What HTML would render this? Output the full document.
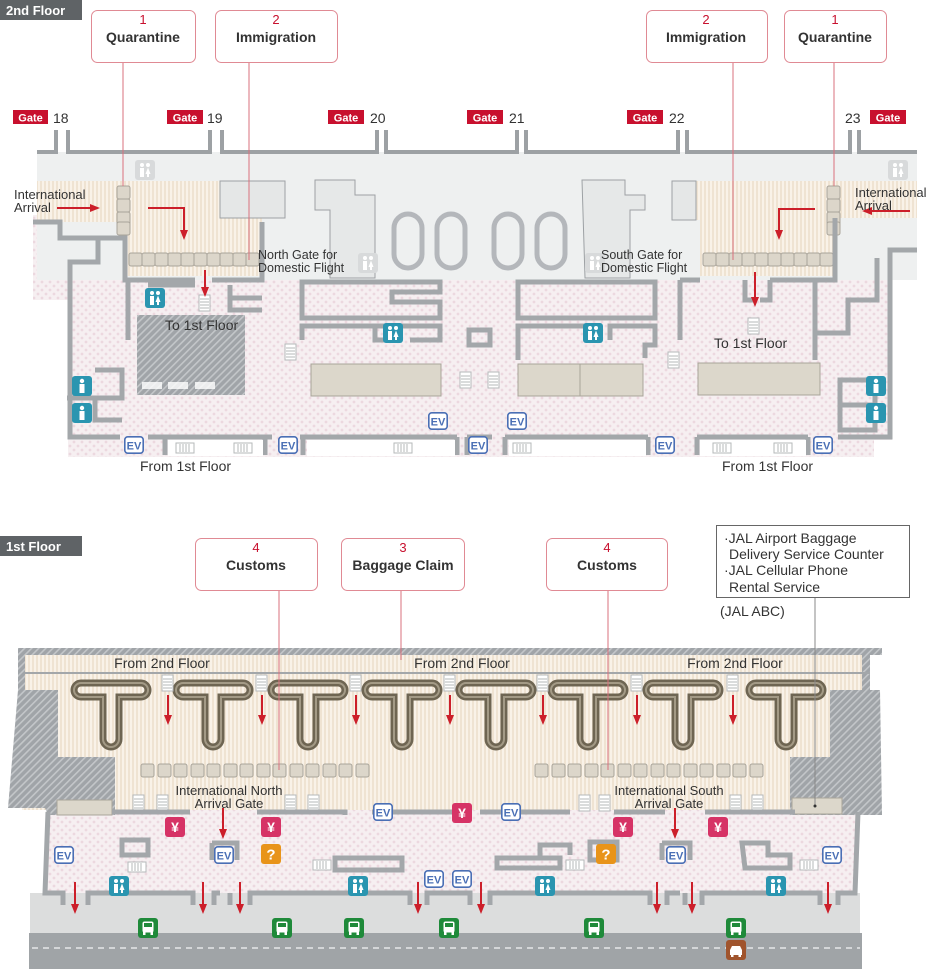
<!DOCTYPE html>
<html><head><meta charset="utf-8"><style>
html,body{margin:0;padding:0;background:#fff;}
svg{display:block;font-family:"Liberation Sans",sans-serif;}
</style></head><body>
<svg width="950" height="969" viewBox="0 0 950 969" xmlns="http://www.w3.org/2000/svg">
<defs>
<pattern id="dots" width="8" height="8" patternUnits="userSpaceOnUse"><rect width="8" height="8" fill="#f6eff1"/><circle cx="2" cy="2" r="1.4" fill="#ecd8df"/><circle cx="6" cy="6" r="1.4" fill="#ecd8df"/></pattern>
<pattern id="stripe" width="4" height="4" patternUnits="userSpaceOnUse"><rect width="4" height="4" fill="#f9f2e8"/><rect width="2" height="4" fill="#efe3d2"/></pattern>
<pattern id="hatch" width="5" height="5" patternUnits="userSpaceOnUse" patternTransform="rotate(45)"><rect width="5" height="5" fill="#a0a4a8"/><rect width="1.6" height="5" fill="#c3c6c9"/></pattern>
<g id="rr"><rect width="20" height="20" rx="3" fill="#2a95b0"/><circle cx="7" cy="5" r="2" fill="#fff"/><circle cx="13" cy="5" r="2" fill="#fff"/><rect x="5" y="8" width="4" height="9" fill="#fff"/><path d="M10.5 14 L13 7.5 L15.5 14Z" fill="#fff"/><rect x="12" y="13" width="2" height="4" fill="#fff"/></g>
<g id="rrg"><rect width="20" height="20" rx="3" fill="#d8dadb"/><circle cx="7" cy="5" r="2" fill="#fff"/><circle cx="13" cy="5" r="2" fill="#fff"/><rect x="5" y="8" width="4" height="9" fill="#fff"/><path d="M10.5 14 L13 7.5 L15.5 14Z" fill="#fff"/><rect x="12" y="13" width="2" height="4" fill="#fff"/></g>
<g id="rr1"><rect width="20" height="20" rx="3" fill="#2a95b0"/><circle cx="10" cy="5" r="2.2" fill="#fff"/><rect x="7.5" y="8" width="5" height="9" fill="#fff"/></g>
<g id="ev"><rect x="0.8" y="0.8" width="18.4" height="16.4" rx="3" fill="#fff" stroke="#4a6fb5" stroke-width="1.6"/><text x="10" y="13.5" text-anchor="middle" font-size="11" font-weight="bold" fill="#4a6fb5">EV</text></g>
<g id="yen"><rect width="20" height="20" rx="3" fill="#d63366"/><text x="10" y="15" text-anchor="middle" font-size="14" font-weight="bold" fill="#fff">¥</text></g>
<g id="q"><rect width="20" height="20" rx="3" fill="#e8941a"/><text x="10" y="15.5" text-anchor="middle" font-size="15" font-weight="bold" fill="#fff">?</text></g>
<g id="bus"><rect width="20" height="20" rx="3" fill="#1f8a3a"/><rect x="4.5" y="3.5" width="11" height="11" rx="2" fill="#fff"/><rect x="6" y="5" width="8" height="4" fill="#1f8a3a"/><rect x="5" y="14" width="2.5" height="3" fill="#fff"/><rect x="12.5" y="14" width="2.5" height="3" fill="#fff"/></g>
<g id="taxi"><rect width="20" height="20" rx="3" fill="#a0542d"/><path d="M6 6 H14 L16 10 V15 H4 V10Z" fill="#fff"/><rect x="5" y="15" width="2.5" height="2" fill="#fff"/><rect x="12.5" y="15" width="2.5" height="2" fill="#fff"/></g>
<g id="st"><rect width="11" height="16" fill="#fff" stroke="#b5b8ba"/><path d="M1 4H10M1 7H10M1 10H10M1 13H10" stroke="#b5b8ba"/></g>
<g id="sth"><rect width="18" height="10" fill="#fff" stroke="#b5b8ba"/><path d="M4 1V9M7 1V9M10 1V9M13 1V9" stroke="#b5b8ba"/></g>
<g id="ctr"><rect width="13" height="13" rx="2" fill="#dcd6ca" stroke="#a9a49a"/></g>
<path id="belt" d="M-30 -6 H30 A7 7 0 0 1 30 8 H8 V50 A8 8 0 0 1 -8 50 V8 H-30 A7 7 0 0 1 -30 -6Z" fill="none"/>
</defs>

<!-- ================= 2nd FLOOR ================= -->
<rect x="0" y="0" width="82" height="20" fill="#5f6366"/>
<text x="6" y="15" font-size="13" font-weight="bold" fill="#fff">2nd Floor</text>

<path d="M33 215 H917 V250 H888 L892 440 H874 V457 H68 V300 H33 Z" fill="url(#dots)"/>
<rect x="37" y="152" width="880" height="128" fill="#eef0f0"/>
<g fill="none" stroke="#9da1a4" stroke-width="4">
<path d="M37 152 H56 V130"/><path d="M68 130 V152 H210 V130"/><path d="M222 130 V152 H377 V130"/><path d="M386 130 V152 H517 V130"/><path d="M526 130 V152 H678 V130"/><path d="M687 130 V152 H850 V130"/><path d="M859 130 V152 H917"/>
</g>
<path d="M37 181 H220 V218 H262 V276 H125 V222 H37 Z" fill="url(#stripe)"/>
<rect x="220" y="181" width="65" height="37" fill="#e5e7e7" stroke="#9da1a4"/>
<path d="M695 181 H917 V218 H835 V276 H700 V220 H695 Z" fill="url(#stripe)"/>
<rect x="672" y="181" width="24" height="39" fill="#e5e7e7" stroke="#9da1a4"/>
<path d="M315 180 H355 V195 H375 V278 H330 V210 H315 Z" fill="#e6e8e8" stroke="#9da1a4"/>
<path d="M582 180 H625 V195 H645 V210 H630 V278 H585 Z" fill="#e6e8e8" stroke="#9da1a4"/>
<g fill="none" stroke="#b4b7bb" stroke-width="5">
<rect x="394" y="214" width="28" height="54" rx="14"/><rect x="437" y="214" width="28" height="54" rx="14"/><rect x="494" y="214" width="28" height="54" rx="14"/><rect x="537" y="214" width="28" height="54" rx="14"/>
</g>
<g>
<use href="#ctr" x="117" y="186"/><use href="#ctr" x="117" y="199"/><use href="#ctr" x="117" y="212"/><use href="#ctr" x="117" y="222"/>
<use href="#ctr" x="129" y="253"/><use href="#ctr" x="142" y="253"/><use href="#ctr" x="155" y="253"/><use href="#ctr" x="168" y="253"/><use href="#ctr" x="181" y="253"/><use href="#ctr" x="194" y="253"/><use href="#ctr" x="207" y="253"/><use href="#ctr" x="220" y="253"/><use href="#ctr" x="233" y="253"/><use href="#ctr" x="246" y="253"/>
<use href="#ctr" x="827" y="186"/><use href="#ctr" x="827" y="199"/><use href="#ctr" x="827" y="212"/><use href="#ctr" x="827" y="222"/>
<use href="#ctr" x="703" y="253"/><use href="#ctr" x="716" y="253"/><use href="#ctr" x="729" y="253"/><use href="#ctr" x="742" y="253"/><use href="#ctr" x="755" y="253"/><use href="#ctr" x="768" y="253"/><use href="#ctr" x="781" y="253"/><use href="#ctr" x="794" y="253"/><use href="#ctr" x="807" y="253"/><use href="#ctr" x="820" y="253"/>
</g>
<g fill="none" stroke="#a3a7aa" stroke-width="5">
<path d="M33 222 H60 V238 H98 V262 H70 V437 H120"/>
<path d="M60 238 H125 V280 H195"/>
<path d="M212 280 H262 V222"/>
<path d="M128 280 V340 M148 285 H195 M230 285 V310 H262 M230 298 H262"/>
<path d="M148 437 H272 M300 437 H457 M467 437 H492 M505 437 H648 M697 437 H808 M838 437 H890 V250 H917"/>
<path d="M67 398 H122 V370 H95 M95 398 V420 H122"/>
<path d="M302 282 H440 V292 H392 V302 H440 V318 H302 Z"/>
<path d="M302 340 V326 H375 V340 H392 M410 340 H440 V326 H302"/>
<path d="M469 330 H490 V345 H469 Z"/>
<path d="M518 282 H655 V318 H518 Z"/>
<path d="M518 360 V326 H593 V340 M610 340 V326 H655 V345 H645 V358"/>
<path d="M680 280 V340 M680 280 H700 M745 280 V300 H755 M770 280 V300 H760 M770 280 H835 V218 M815 280 V360 M815 333 H848 V300 H877 V258"/>
<path d="M840 380 H875 V430 H840 Z M840 405 H875"/>
<path d="M165 437 V455 M265 437 V455 M303 437 V455 M457 437 V455 M467 437 V455 M505 437 V455 M648 437 V455 M697 437 V455 M808 437 V455"/>
</g>
<rect x="137" y="315" width="108" height="80" fill="url(#hatch)"/>
<rect x="142" y="382" width="20" height="7" fill="#fff" opacity="0.8"/><rect x="168" y="382" width="20" height="7" fill="#fff" opacity="0.8"/><rect x="195" y="382" width="20" height="7" fill="#fff" opacity="0.8"/>
<rect x="311" y="364" width="130" height="32" fill="#dcd7cb" stroke="#a9a49a"/>
<rect x="518" y="364" width="62" height="32" fill="#dcd7cb" stroke="#a9a49a"/>
<rect x="580" y="364" width="63" height="32" fill="#dcd7cb" stroke="#a9a49a"/>
<rect x="698" y="363" width="122" height="32" fill="#dcd7cb" stroke="#a9a49a"/>
<rect x="168" y="440" width="95" height="16" fill="#fff"/><rect x="307" y="440" width="148" height="16" fill="#fff"/><rect x="509" y="440" width="137" height="16" fill="#fff"/><rect x="700" y="440" width="106" height="16" fill="#fff"/>
<use href="#st" x="199" y="295"/><use href="#st" x="285" y="344"/><use href="#st" x="460" y="372"/><use href="#st" x="488" y="372"/><use href="#st" x="748" y="318"/><use href="#st" x="668" y="352"/>
<use href="#sth" x="176" y="443"/><use href="#sth" x="234" y="443"/><use href="#sth" x="394" y="443"/><use href="#sth" x="513" y="443"/><use href="#sth" x="713" y="443"/><use href="#sth" x="774" y="443"/>
<use href="#rrg" x="135" y="160"/><use href="#rrg" x="888" y="160"/><use href="#rrg" x="358" y="253"/><use href="#rrg" x="585" y="253"/>
<use href="#rr" x="145" y="288"/><use href="#rr" x="383" y="323"/><use href="#rr" x="583" y="323"/>
<use href="#rr1" x="72" y="376"/><use href="#rr1" x="72" y="403"/><use href="#rr1" x="866" y="376"/><use href="#rr1" x="866" y="403"/>
<use href="#ev" x="428" y="412"/><use href="#ev" x="507" y="412"/>
<use href="#ev" x="124" y="436"/><use href="#ev" x="278" y="436"/><use href="#ev" x="468" y="436"/><use href="#ev" x="655" y="436"/><use href="#ev" x="813" y="436"/>
<g stroke="#cc1f2a" stroke-width="2" fill="none">
<path d="M57 208 H92"/><path d="M148 208 H184 V232"/><path d="M205 270 V290"/>
<path d="M910 211 H870"/><path d="M815 209 H779 V232"/><path d="M755 272 V300"/>
</g>
<g fill="#cc1f2a">
<path d="M100 208 L90 204 V212Z"/><path d="M184 240 L180 230 H188Z"/><path d="M205 297 L201 287 H209Z"/>
<path d="M862 211 L872 207 V215Z"/><path d="M779 240 L775 230 H783Z"/><path d="M755 307 L751 297 H759Z"/>
</g>
<g font-size="14" fill="#333">
<rect x="13" y="110" width="35" height="14" fill="#c8102e"/><text x="30.5" y="121.5" text-anchor="middle" font-size="11" font-weight="bold" fill="#fff">Gate</text><text x="53" y="123">18</text>
<rect x="167" y="110" width="36" height="14" fill="#c8102e"/><text x="185" y="121.5" text-anchor="middle" font-size="11" font-weight="bold" fill="#fff">Gate</text><text x="207" y="123">19</text>
<rect x="328" y="110" width="36" height="14" fill="#c8102e"/><text x="346" y="121.5" text-anchor="middle" font-size="11" font-weight="bold" fill="#fff">Gate</text><text x="370" y="123">20</text>
<rect x="467" y="110" width="36" height="14" fill="#c8102e"/><text x="485" y="121.5" text-anchor="middle" font-size="11" font-weight="bold" fill="#fff">Gate</text><text x="509" y="123">21</text>
<rect x="627" y="110" width="36" height="14" fill="#c8102e"/><text x="645" y="121.5" text-anchor="middle" font-size="11" font-weight="bold" fill="#fff">Gate</text><text x="669" y="123">22</text>
<text x="845" y="123">23</text><rect x="870" y="110" width="36" height="14" fill="#c8102e"/><text x="888" y="121.5" text-anchor="middle" font-size="11" font-weight="bold" fill="#fff">Gate</text>
</g>
<g stroke="#d9707c" stroke-width="1">
<path d="M123 62 V186"/><path d="M249 62 V260"/><path d="M733 62 V260"/><path d="M834 62 V186"/>
</g>
<g>
<rect x="91.5" y="10.5" width="104" height="52" rx="6" fill="#fff" stroke="#e08a94"/>
<text x="143" y="24" text-anchor="middle" font-size="13" fill="#c8102e">1</text><text x="143" y="42" text-anchor="middle" font-size="14" font-weight="bold" fill="#333">Quarantine</text>
<rect x="215.5" y="10.5" width="122" height="52" rx="6" fill="#fff" stroke="#e08a94"/>
<text x="276" y="24" text-anchor="middle" font-size="13" fill="#c8102e">2</text><text x="276" y="42" text-anchor="middle" font-size="14" font-weight="bold" fill="#333">Immigration</text>
<rect x="646.5" y="10.5" width="121" height="52" rx="6" fill="#fff" stroke="#e08a94"/>
<text x="706" y="24" text-anchor="middle" font-size="13" fill="#c8102e">2</text><text x="706" y="42" text-anchor="middle" font-size="14" font-weight="bold" fill="#333">Immigration</text>
<rect x="784.5" y="10.5" width="102" height="52" rx="6" fill="#fff" stroke="#e08a94"/>
<text x="835" y="24" text-anchor="middle" font-size="13" fill="#c8102e">1</text><text x="835" y="42" text-anchor="middle" font-size="14" font-weight="bold" fill="#333">Quarantine</text>
</g>
<g font-size="13" fill="#333">
<text x="14" y="199">International</text><text x="14" y="212">Arrival</text>
<text x="855" y="197">International</text><text x="855" y="210">Arrival</text>
<text x="258" y="259" font-size="12.5">North Gate for</text><text x="258" y="272" font-size="12.5">Domestic Flight</text>
<text x="601" y="259" font-size="12.5">South Gate for</text><text x="601" y="272" font-size="12.5">Domestic Flight</text>
<text x="165" y="330" font-size="14">To 1st Floor</text>
<text x="714" y="348" font-size="14">To 1st Floor</text>
<text x="140" y="471" font-size="14">From 1st Floor</text>
<text x="722" y="471" font-size="14">From 1st Floor</text>
</g>

<!-- ================= 1st FLOOR ================= -->
<rect x="0" y="536" width="82" height="20" fill="#5f6366"/>
<text x="6" y="551" font-size="13" font-weight="bold" fill="#fff">1st Floor</text>

<rect x="30" y="893" width="830" height="42" fill="#dcdddd"/>
<rect x="29" y="933" width="833" height="36" fill="#a0a4a7"/>
<path d="M32 948 H860" stroke="#e6e7e8" stroke-width="1.5" stroke-dasharray="6 5"/>
<path d="M48 810 H860 L857 893 H44 Z" fill="url(#dots)"/>
<rect x="22" y="652" width="848" height="158" fill="url(#stripe)"/>
<path d="M18 648 H882 V655 H870 V690 H862 V655 H25 V690 L18 690 Z" fill="url(#hatch)"/>
<path d="M25 690 H58 V757 H115 V815 H48 L45 808 H8 L18 690 Z" fill="url(#hatch)"/>
<path d="M830 690 H880 L882 815 H790 V757 H830 Z" fill="url(#hatch)"/>
<path d="M25 673 H870" stroke="#a3a7aa" stroke-width="2"/>
<rect x="57" y="800" width="55" height="15" fill="#dcd7cb" stroke="#a9a49a"/>
<rect x="792" y="798" width="50" height="16" fill="#dcd7cb" stroke="#a9a49a"/>
<g>
<use href="#belt" x="111" y="689" stroke="#6e6552" stroke-width="7"/><use href="#belt" x="111" y="689" stroke="#a39a86" stroke-width="2"/>
<use href="#belt" x="213" y="689" stroke="#6e6552" stroke-width="7"/><use href="#belt" x="213" y="689" stroke="#a39a86" stroke-width="2"/>
<use href="#belt" x="308" y="689" stroke="#6e6552" stroke-width="7"/><use href="#belt" x="308" y="689" stroke="#a39a86" stroke-width="2"/>
<use href="#belt" x="402" y="689" stroke="#6e6552" stroke-width="7"/><use href="#belt" x="402" y="689" stroke="#a39a86" stroke-width="2"/>
<use href="#belt" x="496" y="689" stroke="#6e6552" stroke-width="7"/><use href="#belt" x="496" y="689" stroke="#a39a86" stroke-width="2"/>
<use href="#belt" x="588" y="689" stroke="#6e6552" stroke-width="7"/><use href="#belt" x="588" y="689" stroke="#a39a86" stroke-width="2"/>
<use href="#belt" x="683" y="689" stroke="#6e6552" stroke-width="7"/><use href="#belt" x="683" y="689" stroke="#a39a86" stroke-width="2"/>
<use href="#belt" x="786" y="689" stroke="#6e6552" stroke-width="7"/><use href="#belt" x="786" y="689" stroke="#a39a86" stroke-width="2"/>
</g>
<use href="#st" x="162" y="675"/><use href="#st" x="256" y="675"/><use href="#st" x="350" y="675"/><use href="#st" x="444" y="675"/><use href="#st" x="537" y="675"/><use href="#st" x="631" y="675"/><use href="#st" x="727" y="675"/>
<use href="#st" x="133" y="795"/><use href="#st" x="157" y="795"/><use href="#st" x="285" y="795"/><use href="#st" x="308" y="795"/><use href="#st" x="579" y="795"/><use href="#st" x="599" y="795"/><use href="#st" x="730" y="795"/><use href="#st" x="752" y="795"/>
<g>
<use href="#ctr" x="141" y="764"/><use href="#ctr" x="158" y="764"/><use href="#ctr" x="174" y="764"/><use href="#ctr" x="191" y="764"/><use href="#ctr" x="207" y="764"/><use href="#ctr" x="224" y="764"/><use href="#ctr" x="240" y="764"/><use href="#ctr" x="257" y="764"/><use href="#ctr" x="273" y="764"/><use href="#ctr" x="290" y="764"/><use href="#ctr" x="306" y="764"/><use href="#ctr" x="323" y="764"/><use href="#ctr" x="339" y="764"/><use href="#ctr" x="356" y="764"/>
<use href="#ctr" x="535" y="764"/><use href="#ctr" x="552" y="764"/><use href="#ctr" x="568" y="764"/><use href="#ctr" x="585" y="764"/><use href="#ctr" x="601" y="764"/><use href="#ctr" x="618" y="764"/><use href="#ctr" x="634" y="764"/><use href="#ctr" x="651" y="764"/><use href="#ctr" x="667" y="764"/><use href="#ctr" x="684" y="764"/><use href="#ctr" x="700" y="764"/><use href="#ctr" x="717" y="764"/><use href="#ctr" x="733" y="764"/><use href="#ctr" x="750" y="764"/>
</g>
<g fill="none" stroke="#a3a7aa" stroke-width="5">
<path d="M112 812 H190 M257 812 H345 V815 M372 812 H455 M480 812 H570 M614 812 H665 M705 812 H795"/>
<path d="M48 812 L45 893 H63 V905 M88 905 V893 H193 V905 M214 905 V893 H220 M230 893 V905 M250 905 V893 H410 V905 M427 905 V893 H470 V905 M490 905 V893 H650 V905 M667 905 V893 H680 M685 893 V905 M702 905 V893 H820 V905 M838 905 V893 H855 L858 812"/>
<path d="M122 840 H148 V855 H122 Z"/>
<path d="M212 843 H237 V860 M212 843 V860"/>
<path d="M335 858 H402 V870 H335 Z"/>
<path d="M497 858 H560 V868 H497 Z M540 858 V845 H570 V855"/>
<path d="M662 843 H690 V860 M662 843 V860"/>
<path d="M742 843 H768 V855 H790 V868 H745 Z"/>
<path d="M590 842 H617 V860 H590 Z"/>
</g>
<use href="#sth" x="128" y="862"/><use href="#sth" x="313" y="860"/><use href="#sth" x="566" y="860"/><use href="#sth" x="800" y="860"/>
<use href="#yen" x="165" y="817"/><use href="#yen" x="261" y="817"/><use href="#yen" x="452" y="803"/><use href="#yen" x="613" y="817"/><use href="#yen" x="708" y="817"/>
<use href="#q" x="261" y="844"/><use href="#q" x="596" y="844"/>
<use href="#ev" x="54" y="846"/><use href="#ev" x="214" y="846"/><use href="#ev" x="373" y="803"/><use href="#ev" x="501" y="803"/><use href="#ev" x="424" y="870"/><use href="#ev" x="452" y="870"/><use href="#ev" x="666" y="846"/><use href="#ev" x="822" y="846"/>
<use href="#rr" x="109" y="876"/><use href="#rr" x="348" y="876"/><use href="#rr" x="535" y="876"/><use href="#rr" x="766" y="876"/>
<use href="#bus" x="138" y="918"/><use href="#bus" x="272" y="918"/><use href="#bus" x="344" y="918"/><use href="#bus" x="439" y="918"/><use href="#bus" x="584" y="918"/><use href="#bus" x="726" y="918"/>
<use href="#taxi" x="726" y="940"/>
<g stroke="#cc1f2a" stroke-width="2">
<path d="M168 695 V716"/><path d="M262 695 V716"/><path d="M356 695 V716"/><path d="M450 695 V716"/><path d="M543 695 V716"/><path d="M637 695 V716"/><path d="M733 695 V716"/>
<path d="M223 808 V830"/><path d="M675 808 V830"/>
<path d="M75 882 V905"/><path d="M203 882 V905"/><path d="M240 882 V905"/><path d="M418 882 V905"/><path d="M481 882 V905"/><path d="M657 882 V905"/><path d="M692 882 V905"/><path d="M828 882 V905"/>
</g>
<g fill="#cc1f2a">
<path d="M164 715 H172 L168 725Z"/><path d="M258 715 H266 L262 725Z"/><path d="M352 715 H360 L356 725Z"/><path d="M446 715 H454 L450 725Z"/><path d="M539 715 H547 L543 725Z"/><path d="M633 715 H641 L637 725Z"/><path d="M729 715 H737 L733 725Z"/>
<path d="M219 829 H227 L223 839Z"/><path d="M671 829 H679 L675 839Z"/>
<path d="M71 904 H79 L75 914Z"/><path d="M199 904 H207 L203 914Z"/><path d="M236 904 H244 L240 914Z"/><path d="M414 904 H422 L418 914Z"/><path d="M477 904 H485 L481 914Z"/><path d="M653 904 H661 L657 914Z"/><path d="M688 904 H696 L692 914Z"/><path d="M824 904 H832 L828 914Z"/>
</g>
<g stroke="#d9707c" stroke-width="1">
<path d="M279 590 V770"/><path d="M401 590 V660"/><path d="M608 590 V770"/>
</g>
<path d="M815 598 V806" stroke="#888" stroke-width="1"/><circle cx="815" cy="806" r="1.5" fill="#333"/>
<rect x="195.5" y="538.5" width="122" height="52" rx="6" fill="#fff" stroke="#e08a94"/>
<text x="256" y="552" text-anchor="middle" font-size="13" fill="#c8102e">4</text><text x="256" y="570" text-anchor="middle" font-size="14" font-weight="bold" fill="#333">Customs</text>
<rect x="341.5" y="538.5" width="123" height="52" rx="6" fill="#fff" stroke="#e08a94"/>
<text x="403" y="552" text-anchor="middle" font-size="13" fill="#c8102e">3</text><text x="403" y="570" text-anchor="middle" font-size="14" font-weight="bold" fill="#333">Baggage Claim</text>
<rect x="546.5" y="538.5" width="121" height="52" rx="6" fill="#fff" stroke="#e08a94"/>
<text x="607" y="552" text-anchor="middle" font-size="13" fill="#c8102e">4</text><text x="607" y="570" text-anchor="middle" font-size="14" font-weight="bold" fill="#333">Customs</text>
<rect x="716.5" y="525.5" width="193" height="72" fill="#fff" stroke="#666"/>
<g font-size="14" fill="#333">
<text x="724" y="543">·JAL Airport Baggage</text><text x="729" y="559">Delivery Service Counter</text>
<text x="724" y="575">·JAL Cellular Phone</text><text x="729" y="592">Rental Service</text>
<text x="720" y="616">(JAL ABC)</text>
</g>
<g font-size="14" fill="#333" text-anchor="middle">
<text x="162" y="668">From 2nd Floor</text><text x="462" y="668">From 2nd Floor</text><text x="735" y="668">From 2nd Floor</text>
<text x="229" y="795" font-size="13">International North</text><text x="229" y="808" font-size="13">Arrival Gate</text>
<text x="669" y="795" font-size="13">International South</text><text x="669" y="808" font-size="13">Arrival Gate</text>
</g>
</svg>
</body></html>
